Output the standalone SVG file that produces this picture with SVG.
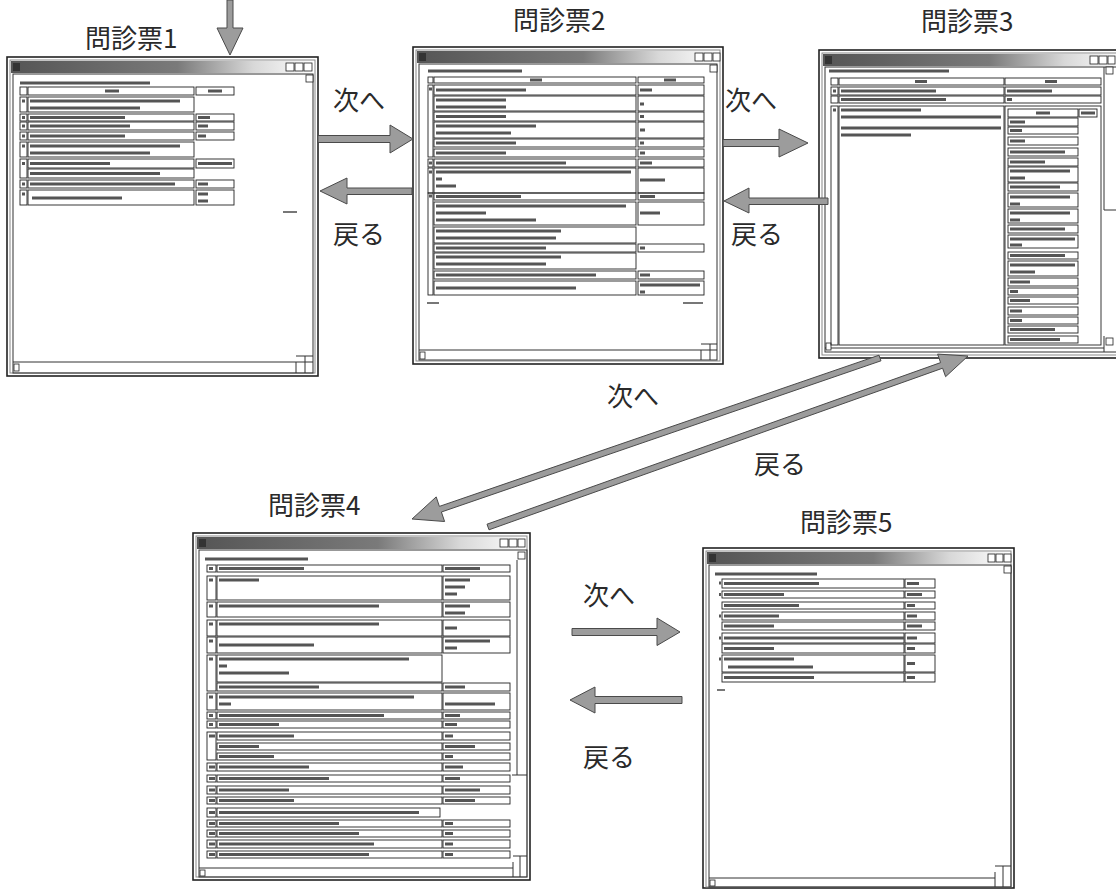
<svg xmlns="http://www.w3.org/2000/svg" width="1116" height="889" viewBox="0 0 1116 889">
<style>
.bg{fill:#fff}
.frame{fill:#fff;stroke:#222;stroke-width:1.6}
.inner{fill:none;stroke:#888;stroke-width:1}
.client{fill:none;stroke:#333;stroke-width:1}
.btn{fill:#fff;stroke:#222;stroke-width:0.8}
.c{fill:none;stroke:#222;stroke-width:0.9}
.t{fill:none;stroke:#555;stroke-width:3.2}
.ts{fill:none;stroke:#777;stroke-width:2}
.ln{fill:none;stroke:#333;stroke-width:1}
.arrow{fill:#9c9c9c;stroke:#4a4a4a;stroke-width:1}
.lbl{font-family:"Noto Sans CJK JP","Noto Sans",sans-serif;font-size:26px;fill:#2a2a2a}
</style>
<defs>
<linearGradient id="tb" x1="0" y1="0" x2="1" y2="0">
<stop offset="0" stop-color="#555"/>
<stop offset="0.55" stop-color="#7a7a7a"/>
<stop offset="0.8" stop-color="#d8d8d8"/>
<stop offset="1" stop-color="#fff"/>
</linearGradient>
</defs>
<rect class="bg" x="0" y="0" width="1116" height="889"/>

<g id="w1">
<text class="lbl" x="85" y="48">問診票1</text>
<rect class="frame" x="7" y="57" width="311" height="319"/>
<rect class="inner" x="10" y="60" width="305" height="313"/>
<rect x="11" y="61" width="303" height="12" fill="url(#tb)"/>
<rect x="13" y="63" width="7" height="8" fill="#333"/>
<rect class="btn" x="286" y="63" width="8" height="8"/><rect class="btn" x="295" y="63" width="8" height="8"/><rect class="btn" x="304" y="63" width="8" height="8"/>
<rect class="client" x="13" y="74" width="300" height="299"/>
<rect class="btn" x="306" y="75" width="7" height="7"/>
<path class="ln" d="M13 362H313M296 362v11M305 356v17M296 356h17"/>
<rect class="btn" x="14" y="364" width="5" height="7"/>
<path class="t" d="M20 83h130"/>
<rect class="c" x="20" y="87" width="7" height="8"/><rect class="c" x="28" y="87" width="166" height="8"/><rect class="c" x="196" y="87" width="38" height="8"/>
<path class="t" d="M105 91h14M208 91h14"/>
<rect class="c" x="20" y="97" width="7" height="15"/><rect class="c" x="28" y="97" width="166" height="15"/>
<rect class="c" x="20" y="114" width="7" height="7"/><rect class="c" x="28" y="114" width="166" height="7"/><rect class="c" x="196" y="114" width="38" height="7"/>
<rect class="c" x="20" y="122" width="7" height="8"/><rect class="c" x="28" y="122" width="166" height="8"/><rect class="c" x="196" y="122" width="38" height="8"/>
<rect class="c" x="20" y="132" width="7" height="8"/><rect class="c" x="28" y="132" width="166" height="8"/><rect class="c" x="196" y="132" width="38" height="8"/>
<rect class="c" x="20" y="142" width="7" height="15"/><rect class="c" x="28" y="142" width="166" height="15"/>
<rect class="c" x="20" y="159" width="7" height="19"/><rect class="c" x="28" y="159" width="166" height="9"/><rect class="c" x="196" y="159" width="38" height="9"/><rect class="c" x="28" y="169" width="166" height="9"/>
<rect class="c" x="20" y="180" width="7" height="8"/><rect class="c" x="28" y="180" width="166" height="8"/><rect class="c" x="196" y="180" width="38" height="8"/>
<rect class="c" x="20" y="190" width="7" height="15"/><rect class="c" x="28" y="190" width="166" height="15"/><rect class="c" x="196" y="190" width="38" height="15"/>
<path class="t" d="M22 101h3M30 101h150M30 108h110M22 117.5h3M30 117.5h95M198 117.5h12M22 126h3M30 126h100M198 126h10M22 136h3M30 136h95M198 136h8M22 146h3M30 146h150M30 153h120M22 163.5h3M30 163.5h80M198 163.5h34M30 173.5h130M22 184h3M30 184h145M198 184h10M22 194h3M32 198h90M198 194h10M198 201h10"/>
<path class="ts" d="M283 212h14"/>
</g>

<g id="w2">
<text class="lbl" x="513" y="30">問診票2</text>
<rect class="frame" x="413" y="47" width="310" height="317"/>
<rect class="inner" x="416" y="50" width="304" height="311"/>
<rect x="417" y="51" width="302" height="12" fill="url(#tb)"/>
<rect x="419" y="53" width="7" height="8" fill="#333"/>
<rect class="btn" x="695" y="53" width="8" height="8"/><rect class="btn" x="704" y="53" width="8" height="8"/><rect class="btn" x="713" y="53" width="7" height="8"/>
<rect class="client" x="419" y="64" width="298" height="296"/>
<rect class="btn" x="710" y="65" width="7" height="7"/>
<path class="ln" d="M419 350H717M701 350v10M710 344v16M701 344h16"/>
<rect class="btn" x="420" y="352" width="5" height="7"/>
<path class="t" d="M428 71h94"/>
<rect class="c" x="428" y="77" width="5" height="6"/><rect class="c" x="434" y="77" width="202" height="6"/><rect class="c" x="638" y="77" width="66" height="6"/>
<rect class="c" x="428" y="85" width="5" height="72"/>
<rect class="c" x="434" y="85" width="202" height="10"/><rect class="c" x="638" y="85" width="66" height="10"/>
<rect class="c" x="434" y="96" width="202" height="15"/><rect class="c" x="638" y="96" width="66" height="15"/>
<rect class="c" x="434" y="112" width="202" height="9"/><rect class="c" x="638" y="112" width="66" height="9"/>
<rect class="c" x="434" y="122" width="202" height="16"/><rect class="c" x="638" y="122" width="66" height="16"/>
<rect class="c" x="434" y="139" width="202" height="8"/><rect class="c" x="638" y="139" width="66" height="8"/>
<rect class="c" x="434" y="149" width="202" height="8"/><rect class="c" x="638" y="149" width="66" height="8"/>
<rect class="c" x="428" y="159" width="5" height="8"/><rect class="c" x="434" y="159" width="202" height="8"/><rect class="c" x="638" y="159" width="66" height="8"/>
<rect class="c" x="428" y="168" width="5" height="25"/><rect class="c" x="434" y="168" width="202" height="25"/><rect class="c" x="638" y="168" width="66" height="25"/>
<rect class="c" x="428" y="193" width="5" height="102"/>
<rect class="c" x="434" y="193" width="202" height="7"/><rect class="c" x="638" y="193" width="66" height="7"/>
<rect class="c" x="434" y="202" width="202" height="23"/><rect class="c" x="638" y="202" width="66" height="23"/>
<rect class="c" x="434" y="227" width="202" height="16"/>
<rect class="c" x="434" y="244" width="202" height="8"/><rect class="c" x="638" y="244" width="66" height="8"/>
<rect class="c" x="434" y="253" width="202" height="16"/>
<rect class="c" x="434" y="271" width="202" height="8"/><rect class="c" x="638" y="271" width="66" height="8"/>
<rect class="c" x="434" y="281" width="202" height="14"/><rect class="c" x="638" y="281" width="66" height="14"/>
<path class="t" d="M530 80h12M664 80h12M429 89h3M436 90h90M640 90h12M436 100h70M436 107h70M640 104h4M436 116.5h70M640 116.5h4M436 126h100M436 133h75M640 130h5M436 143h80M640 143h4M436 153h70M640 153h5M429 163h3M436 163h130M640 163h12M429 172h3M436 172h195M436 179h6M436 186h20M640 180h25M429 196h3M436 196.5h85M640 196.5h15M436 206h190M436 213h50M436 220h100M640 213h20M436 231h125M436 238h120M436 248h110M640 248h5M436 257h125M436 264h110M436 275h160M640 275h10M436 288h140M640 285h60M640 292h5"/>
<path class="ts" d="M427 303h12M683 303h20"/>
</g>

<g id="w3">
<text class="lbl" x="921" y="31">問診票3</text>
<rect class="frame" x="819" y="50" width="310" height="308"/>
<rect class="inner" x="822" y="53" width="304" height="302"/>
<rect x="823" y="54" width="302" height="12" fill="url(#tb)"/>
<rect x="825" y="56" width="7" height="8" fill="#333"/>
<rect class="btn" x="1090" y="56" width="8" height="8"/><rect class="btn" x="1099" y="56" width="8" height="8"/><rect class="btn" x="1108" y="56" width="7" height="8"/>
<rect class="client" x="825" y="67" width="300" height="285"/>
<path class="ln" d="M1104 67V210H1116M1104 336v16M825 348H1104"/>
<rect class="btn" x="1106" y="67" width="7" height="7"/>
<rect class="btn" x="1106" y="338" width="7" height="7"/>
<rect class="btn" x="826" y="343" width="5" height="7"/>
<path class="t" d="M829 71h120"/>
<rect class="c" x="831" y="78" width="7" height="7"/><rect class="c" x="839" y="78" width="165" height="7"/><rect class="c" x="1005" y="78" width="96" height="7"/>
<rect class="c" x="831" y="87" width="7" height="8"/><rect class="c" x="839" y="87" width="165" height="8"/><rect class="c" x="1005" y="87" width="96" height="8"/>
<rect class="c" x="831" y="96" width="7" height="7"/><rect class="c" x="839" y="96" width="165" height="7"/><rect class="c" x="1005" y="96" width="96" height="7"/>
<rect class="c" x="831" y="106" width="7" height="239"/><rect class="c" x="839" y="106" width="165" height="239"/><rect class="c" x="1005" y="106" width="96" height="239"/>
<rect class="c" x="1008" y="109" width="70" height="8"/><rect class="c" x="1079" y="109" width="18" height="8"/>
<rect class="c" x="1008" y="118" width="70" height="8"/>
<rect class="c" x="1008" y="127" width="70" height="7"/>
<rect class="c" x="1008" y="137" width="70" height="8"/>
<rect class="c" x="1008" y="148" width="70" height="8"/>
<rect class="c" x="1008" y="158" width="70" height="8"/>
<rect class="c" x="1008" y="167" width="70" height="15"/>
<rect class="c" x="1008" y="183" width="70" height="8"/>
<rect class="c" x="1008" y="193" width="70" height="14"/>
<rect class="c" x="1008" y="209" width="70" height="14"/>
<rect class="c" x="1008" y="225" width="70" height="8"/>
<rect class="c" x="1008" y="235" width="70" height="13"/>
<rect class="c" x="1008" y="252" width="70" height="7"/>
<rect class="c" x="1008" y="261" width="70" height="15"/>
<rect class="c" x="1008" y="278" width="70" height="8"/>
<rect class="c" x="1008" y="288" width="70" height="7"/>
<rect class="c" x="1008" y="297" width="70" height="7"/>
<rect class="c" x="1008" y="307" width="70" height="8"/>
<rect class="c" x="1008" y="317" width="70" height="7"/>
<rect class="c" x="1008" y="326" width="70" height="7"/>
<rect class="c" x="1008" y="336" width="70" height="7"/>
<path class="t" d="M915 81.5h12M1045 81.5h12M833 91h3M841 91h95M1007 91h45M841 99.5h105M1007 99.5h5M833 110h3M841 110h80M841 117h160M841 128h160M841 135h70M1036 113h14M1081 113h14M1010 122h15M1010 130.5h12M1010 141h15M1010 152h55M1010 162h35M1010 171h60M1010 178h15M1010 187h50M1010 197h60M1010 204h10M1010 213h60M1010 220h10M1010 229h55M1010 239h65M1010 245h12M1010 255.5h55M1010 265h65M1010 272h25M1010 282h20M1010 291.5h8M1010 300.5h20M1010 311h12M1010 320.5h12M1010 329.5h45M1010 339.5h50"/>
</g>

<g id="w4">
<text class="lbl" x="268" y="515">問診票4</text>
<rect class="frame" x="193" y="533" width="337" height="347"/>
<rect class="inner" x="196" y="536" width="331" height="341"/>
<rect x="197" y="537" width="329" height="12" fill="url(#tb)"/>
<rect x="199" y="539" width="7" height="8" fill="#333"/>
<rect class="btn" x="500" y="539" width="8" height="8"/><rect class="btn" x="509" y="539" width="8" height="8"/><rect class="btn" x="518" y="539" width="7" height="8"/>
<rect class="client" x="199" y="550" width="328" height="327"/>
<rect class="btn" x="518" y="552" width="7" height="7"/>
<path class="ln" d="M517 560V775M512 775H527M199 868H513M513 862v15M520 856v21M513 856h14"/>
<rect class="btn" x="200" y="870" width="5" height="6"/>
<path class="t" d="M205 559h103"/>
<rect class="c" x="207" y="565" width="9" height="7"/><rect class="c" x="217" y="565" width="225" height="7"/><rect class="c" x="443" y="565" width="67" height="7"/>
<rect class="c" x="207" y="576" width="9" height="24"/><rect class="c" x="217" y="576" width="225" height="24"/><rect class="c" x="443" y="576" width="67" height="24"/>
<rect class="c" x="207" y="602" width="9" height="15"/><rect class="c" x="217" y="602" width="225" height="15"/><rect class="c" x="443" y="602" width="67" height="15"/>
<rect class="c" x="207" y="620" width="9" height="16"/><rect class="c" x="217" y="620" width="225" height="16"/><rect class="c" x="443" y="620" width="67" height="16"/>
<rect class="c" x="207" y="637" width="9" height="16"/><rect class="c" x="217" y="637" width="225" height="16"/><rect class="c" x="443" y="637" width="67" height="16"/>
<rect class="c" x="207" y="655" width="9" height="36"/><rect class="c" x="217" y="655" width="225" height="27"/>
<rect class="c" x="217" y="683" width="225" height="8"/><rect class="c" x="443" y="683" width="67" height="8"/>
<rect class="c" x="207" y="693" width="9" height="17"/><rect class="c" x="217" y="693" width="225" height="17"/><rect class="c" x="443" y="693" width="67" height="17"/>
<rect class="c" x="207" y="712" width="9" height="7"/><rect class="c" x="217" y="712" width="225" height="7"/><rect class="c" x="443" y="712" width="67" height="7"/>
<rect class="c" x="207" y="721" width="9" height="7"/><rect class="c" x="217" y="721" width="225" height="7"/><rect class="c" x="443" y="721" width="67" height="7"/>
<rect class="c" x="207" y="732" width="9" height="28"/>
<rect class="c" x="217" y="732" width="225" height="8"/><rect class="c" x="443" y="732" width="67" height="8"/>
<rect class="c" x="217" y="743" width="225" height="7"/><rect class="c" x="443" y="743" width="67" height="7"/>
<rect class="c" x="217" y="753" width="225" height="7"/><rect class="c" x="443" y="753" width="67" height="7"/>
<rect class="c" x="207" y="763" width="9" height="8"/><rect class="c" x="217" y="763" width="225" height="8"/><rect class="c" x="443" y="763" width="67" height="8"/>
<rect class="c" x="207" y="775" width="9" height="7"/><rect class="c" x="217" y="775" width="225" height="7"/><rect class="c" x="443" y="775" width="67" height="7"/>
<rect class="c" x="207" y="786" width="9" height="8"/><rect class="c" x="217" y="786" width="225" height="8"/><rect class="c" x="443" y="786" width="67" height="8"/>
<rect class="c" x="207" y="797" width="9" height="7"/><rect class="c" x="217" y="797" width="225" height="7"/><rect class="c" x="443" y="797" width="67" height="7"/>
<rect class="c" x="207" y="808" width="9" height="9"/><rect class="c" x="217" y="808" width="223" height="9"/>
<rect class="c" x="207" y="820" width="9" height="7"/><rect class="c" x="217" y="820" width="225" height="7"/><rect class="c" x="443" y="820" width="67" height="7"/>
<rect class="c" x="207" y="830" width="9" height="7"/><rect class="c" x="217" y="830" width="225" height="7"/><rect class="c" x="443" y="830" width="67" height="7"/>
<rect class="c" x="207" y="840" width="9" height="8"/><rect class="c" x="217" y="840" width="225" height="8"/><rect class="c" x="443" y="840" width="67" height="8"/>
<rect class="c" x="207" y="851" width="9" height="7"/><rect class="c" x="217" y="851" width="225" height="7"/><rect class="c" x="443" y="851" width="67" height="7"/>
<path class="t" d="M209 568.5h4M219 568.5h85M445 568.5h35M209 580h4M219 580h40M445 580h25M445 587h20M445 594h12M209 606h4M219 606h160M445 606h25M445 613h20M209 624h4M219 624h160M445 628h12M209 641h4M219 645h95M445 641h45M445 648h12M209 659h4M219 659h190M219 666h8M219 673h70M219 687h100M445 687h20M209 697h4M219 697h195M219 704h12M445 704h50M209 715.5h4M219 715.5h165M445 715.5h15M209 724.5h4M219 724.5h60M445 724.5h12M209 736h6M219 736h75M445 736h8M219 746.5h40M445 746.5h30M219 756.5h55M445 756.5h8M209 767h6M219 767h90M445 767h18M209 778.5h6M219 778.5h110M445 778.5h15M209 790h6M219 790h70M445 790h35M209 800.5h6M219 800.5h75M445 800.5h30M209 812.5h6M219 812.5h200M209 823.5h6M219 823.5h120M445 823.5h8M209 833.5h6M219 833.5h140M445 833.5h8M209 844h6M219 844h155M445 844h8M209 854.5h6M219 854.5h150M445 854.5h8"/>
</g>

<g id="w5">
<text class="lbl" x="800" y="532">問診票5</text>
<rect class="frame" x="703" y="548" width="311" height="340"/>
<rect class="inner" x="706" y="551" width="305" height="336"/>
<rect x="707" y="552" width="303" height="12" fill="url(#tb)"/>
<rect x="709" y="554" width="7" height="8" fill="#333"/>
<rect class="btn" x="988" y="554" width="7" height="8"/><rect class="btn" x="996" y="554" width="7" height="8"/><rect class="btn" x="1004" y="554" width="7" height="8"/>
<rect class="client" x="709" y="565" width="302" height="322"/>
<rect class="btn" x="1004" y="566" width="7" height="7"/>
<path class="ln" d="M709 878H995M995 872v15M1003 866v21M995 866h16"/>
<rect class="btn" x="710" y="880" width="5" height="6"/>
<path class="t" d="M715 574h102"/>
<rect class="c" x="722" y="579" width="182" height="9"/><rect class="c" x="905" y="579" width="30" height="9"/>
<rect class="c" x="722" y="591" width="182" height="7"/><rect class="c" x="905" y="591" width="30" height="7"/>
<rect class="c" x="722" y="602" width="182" height="7"/><rect class="c" x="905" y="602" width="30" height="7"/>
<rect class="c" x="722" y="612" width="182" height="8"/><rect class="c" x="905" y="612" width="30" height="8"/>
<rect class="c" x="722" y="622" width="182" height="8"/><rect class="c" x="905" y="622" width="30" height="8"/>
<rect class="c" x="722" y="633" width="182" height="10"/><rect class="c" x="905" y="633" width="30" height="10"/>
<rect class="c" x="722" y="644" width="182" height="9"/><rect class="c" x="905" y="644" width="30" height="9"/>
<rect class="c" x="722" y="655" width="182" height="17"/><rect class="c" x="905" y="655" width="30" height="17"/>
<rect class="c" x="722" y="673" width="182" height="9"/><rect class="c" x="905" y="673" width="30" height="9"/>
<path class="t" d="M719 583h2M724 583.5h95M907 583.5h12M719 594.5h2M724 594.5h60M907 594.5h15M724 605.5h75M907 605.5h8M719 616h2M724 616h55M907 616h10M724 626h50M907 626h15M719 638h2M724 638h180M907 638h10M724 648.5h50M907 648.5h8M719 659h2M724 659h70M728 667h85M907 663.5h8M724 677.5h90M907 677.5h8"/>
<path class="ts" d="M717 690h8"/>
</g>

<g id="connectors">
<polygon class="arrow" points="227,0 233,0 233,28 243,28 230,55 217,28 227,28"/>
<polygon class="arrow" points="318,135.5 390,135.5 390,125 413,139 390,153 390,142.5 318,142.5"/>
<polygon class="arrow" points="412,188 347,188 347,178 320,191 347,204 347,194.5 412,194.5"/>
<polygon class="arrow" points="723,139.5 779,139.5 779,129 808,143 779,157 779,146.5 723,146.5"/>
<polygon class="arrow" points="828,198 749,198 749,188 724,201 749,213 749,204.5 828,204.5"/>
<polygon class="arrow" points="879,355.2 439.4,506.4 436.2,496.9 412,519 444.6,521.5 441.4,512 881,360.8"/>
<polygon class="arrow" points="487,524.2 940.6,362.6 937.6,354.1 968,356 945.6,376.7 942.6,368.2 489,529.8"/>
<polygon class="arrow" points="572,628.5 657,628.5 657,618 680,632 657,645.5 657,635.5 572,635.5"/>
<polygon class="arrow" points="682,696.5 595,696.5 595,687 570,700 595,713 595,703.5 682,703.5"/>
<text class="lbl" x="333" y="110">次へ</text>
<text class="lbl" x="333" y="244">戻る</text>
<text class="lbl" x="725" y="110">次へ</text>
<text class="lbl" x="731" y="244">戻る</text>
<text class="lbl" x="607" y="406">次へ</text>
<text class="lbl" x="754" y="474">戻る</text>
<text class="lbl" x="583" y="605">次へ</text>
<text class="lbl" x="583" y="767">戻る</text>
</g>
</svg>
